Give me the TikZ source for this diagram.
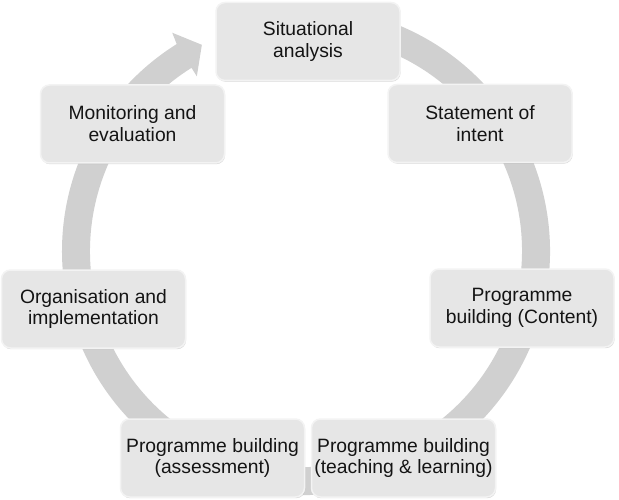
\documentclass[tikz,border=0pt]{standalone}
\usepackage{fontspec}
\setmainfont{Liberation Sans}
\usetikzlibrary{shadows,calc}
\definecolor{ringgray}{HTML}{D0D0D0}
\definecolor{boxgray}{HTML}{E6E6E6}
\definecolor{boxrim}{HTML}{F3F3F3}
\definecolor{txt}{HTML}{141414}
\begin{document}
\begin{tikzpicture}[x=1pt,y=1pt,
  stagebox/.style={rounded corners=9pt, fill=boxgray, draw=boxrim, line width=1.5pt,
    minimum width=184pt, minimum height=78pt, inner sep=2pt, align=center, text=txt,
    font=\fontsize{19.3}{21.9}\selectfont,
    drop shadow={shadow xshift=0.6pt, shadow yshift=-1.2pt, fill=black!35, opacity=0.45}},
  ringstyle/.style={fill=ringgray}]
\useasboundingbox (0,0) rectangle (619,-500);
\coordinate (C) at (306,-251);
% cycle arrow
\fill[ringstyle] ($(C)+(100:244)$) arc[start angle=100, end angle=-238, radius=244]
  -- ($(C)+(121.5:256)$) -- ($(C)+(116.8:231)$) -- ($(C)+(122:206)$)
  -- ($(C)+(122:216)$) arc[start angle=-238, end angle=100, radius=216] -- cycle;
% stages
\node[stagebox] (sit) at (308,-41.5) {Situational\\analysis};
\node[stagebox] (soi) at (480,-123.5) {Statement of\\intent};
\node[stagebox] (con) at (522,-308) {Programme\\building (Content)};
\node[stagebox] (tl) at (403.5,-458) {Programme building\\(teaching \& learning)};
\node[stagebox] (ass) at (212.5,-458) {Programme building\\(assessment)};
\node[stagebox] (org) at (93.5,-309) {Organisation and\\implementation};
\node[stagebox] (mon) at (132.5,-124) {Monitoring and\\evaluation};
\end{tikzpicture}
\end{document}
